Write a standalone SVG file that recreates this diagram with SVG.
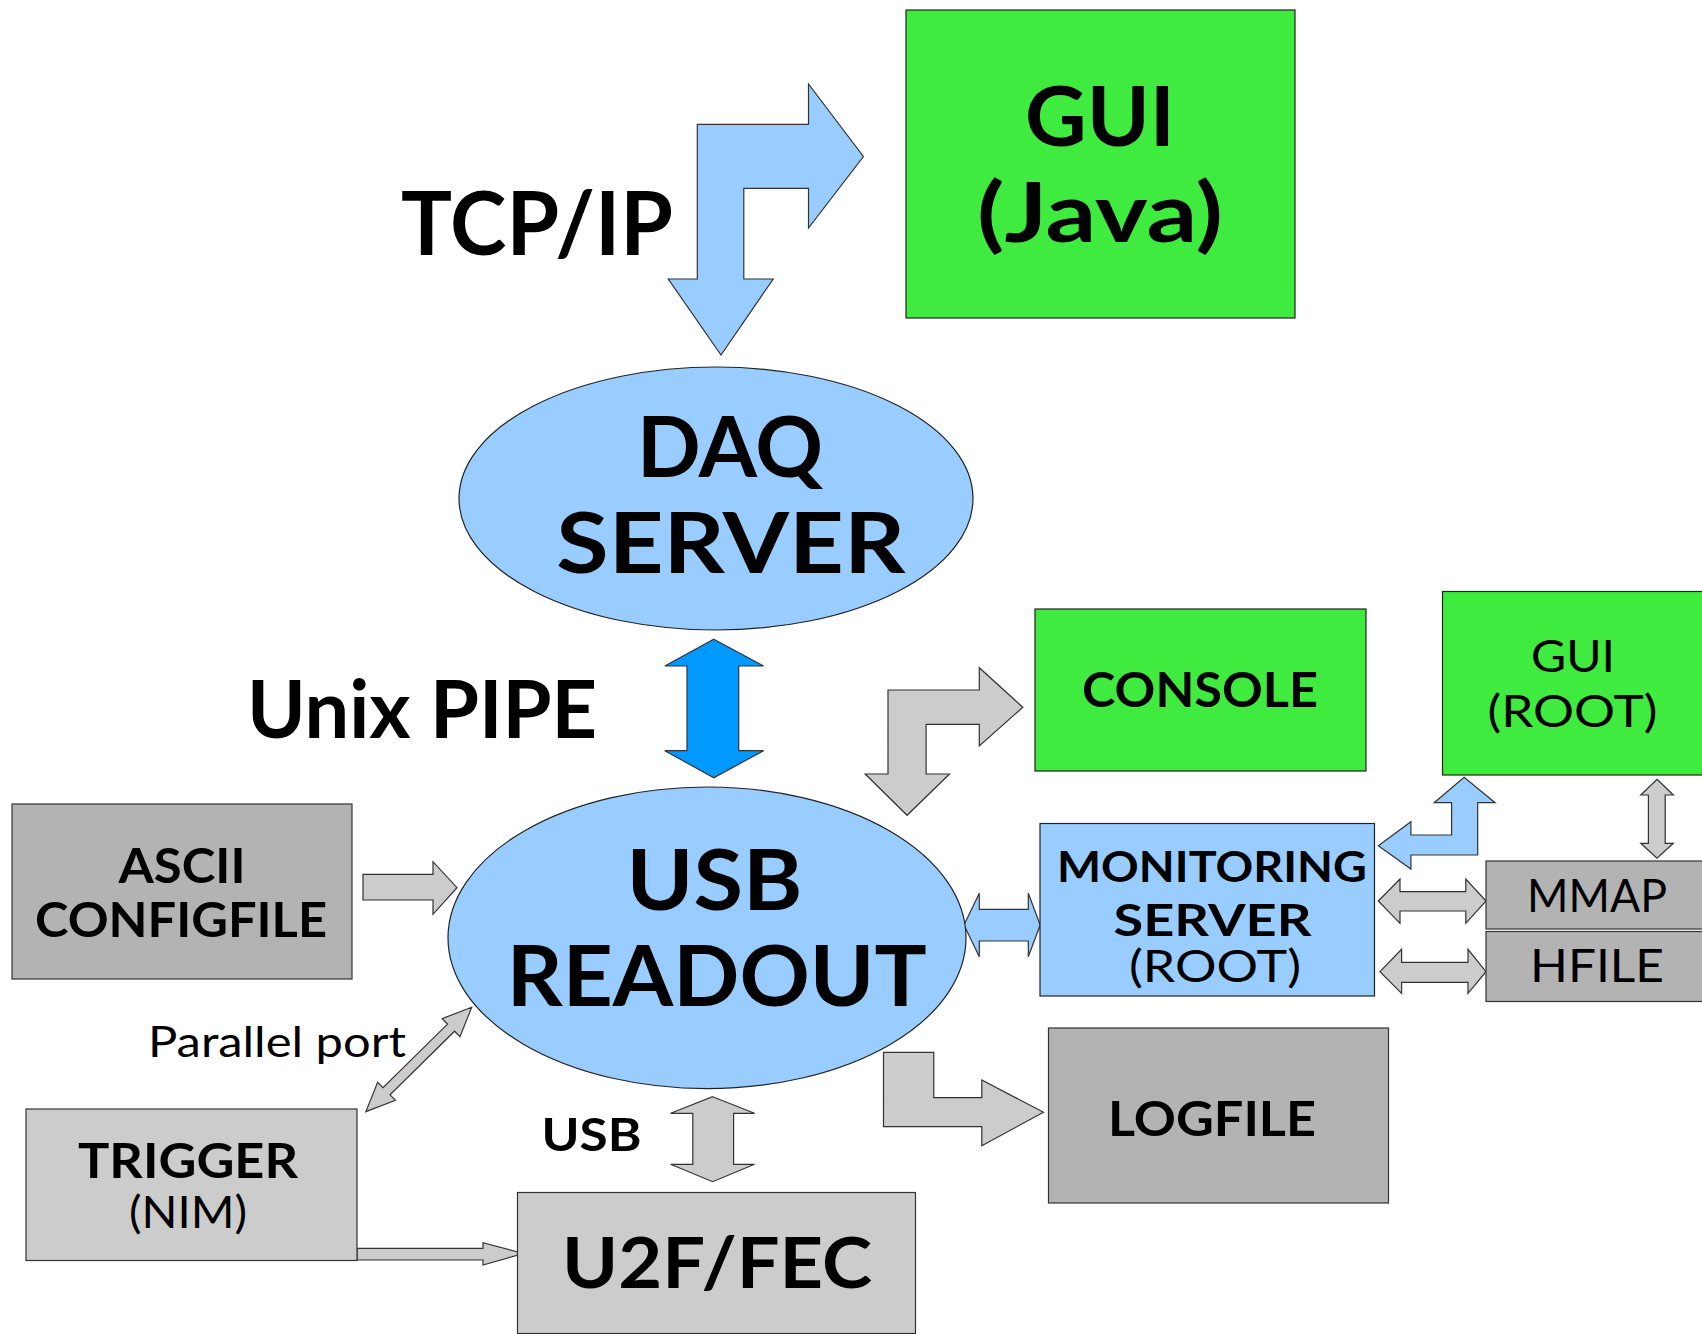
<svg xmlns="http://www.w3.org/2000/svg" width="1702" height="1334" viewBox="0 0 1702 1334">
<style>
.green{fill:#3feb3f;stroke:#222;stroke-width:1.2}
.blue{fill:#99ccff;stroke:#222;stroke-width:1.2}
.g1{fill:#b3b3b3;stroke:#333;stroke-width:1.2}
.g2{fill:#cccccc;stroke:#333;stroke-width:1.2}
.arrg{fill:#cccccc;stroke:#333;stroke-width:1.2;stroke-linejoin:miter}
.arrb{fill:#99ccff;stroke:#333;stroke-width:1.2}
.arrp{fill:#0099ff;stroke:#333;stroke-width:1.2}
.b{font-family:Lato,"Open Sans","Liberation Sans",sans-serif;font-weight:bold;fill:#000;text-anchor:middle}
.r{font-family:Lato,"Open Sans","Liberation Sans",sans-serif;font-weight:normal;fill:#000;text-anchor:middle}
</style>
<rect width="1702" height="1334" fill="#fff"/>
<g id="connectors">
<polygon id="tcpip-arrow" class="arrb" points="697.3,124.3 808.5,124.3 808.5,84 863.4,156.5 808.5,228 808.5,188.3 743.8,188.3 743.8,279 773.2,279 721,355 668.3,279 697.3,279"/>
<polygon id="pipe-arrow" class="arrp" points="713.8,639.3 763.6,666 738.7,666 738.7,750.7 763.6,750.7 713.8,777.7 664.8,750.7 687,750.7 687,666 664.8,666"/>
<polygon id="console-arrow" class="arrg" points="888,690 979.3,690 979.3,667.7 1022.8,707.3 979.3,746 979.3,724.3 926.1,724.3 926.1,774 949.5,774 907.1,815.3 865.2,774 888,774"/>
<polygon id="mon-guiroot-arrow" class="arrb" points="1378.3,845.7 1410.9,821.7 1410.9,835 1451.6,835 1451.6,802.7 1434.2,802.7 1464.1,777.3 1495.1,802.7 1477.7,802.7 1477.7,855 1410.9,855 1410.9,869"/>
<polygon id="guiroot-mmap-arrow" class="arrg" points="1657,779.3 1673.4,795 1665.2,795 1665.2,843.3 1673.4,843.3 1657,858.3 1640.8,843.3 1648.4,843.3 1648.4,795 1640.8,795"/>
<polygon id="mon-mmap-arrow" class="arrg" points="1378.3,901 1400,879 1400,891.7 1465.8,891.7 1465.8,879 1486,901 1465.8,923.3 1465.8,911 1400,911 1400,923.3"/>
<polygon id="mon-hfile-arrow" class="arrg" points="1380,971.7 1401.6,949.3 1401.6,962.3 1468,962.3 1468,949.3 1486,971.7 1468,993.3 1468,982.3 1401.6,982.3 1401.6,993.3"/>
<polygon id="usb-mon-arrow" class="arrb" points="964,925 979.3,893.3 979.3,909.3 1028.3,909.3 1028.3,893.3 1040.2,925 1028.3,956.7 1028.3,941 979.3,941 979.3,956.7"/>
<polygon id="ascii-arrow" class="arrg" points="363,874.3 433,874.3 433,861.7 457,887.7 433,914.3 433,900 363,900"/>
<polygon id="parallel-arrow" class="arrg" transform="translate(471.7,1007.3) rotate(135.4)" points="0,0 29,-12.7 29,-5 119.6,-5 119.6,-12.7 148.6,0 119.6,12.7 119.6,5 29,5 29,12.7"/>
<polygon id="trigger-arrow" class="arrg" points="357,1248.3 483,1248.3 483,1242.7 523.2,1253.5 483,1265 483,1260 357,1260"/>
<polygon id="usb-arrow" class="arrg" points="712.6,1096.7 754.6,1113.3 733.6,1113.3 733.6,1164.3 754.6,1164.3 712.6,1181.7 670.6,1164.3 692.8,1164.3 692.8,1113.3 670.6,1113.3"/>
<polygon id="logfile-arrow" class="arrg" points="883.5,1052.3 933.8,1052.3 933.8,1097.7 981.8,1097.7 981.8,1080 1043.5,1112.3 981.8,1145.7 981.8,1126.7 883.5,1126.7"/>
</g>
<g id="labels">
<text class="b" x="537" y="255" font-size="88" textLength="272" lengthAdjust="spacingAndGlyphs">TCP/IP</text>
<text class="b" x="422" y="738" font-size="80" textLength="350" lengthAdjust="spacingAndGlyphs">Unix PIPE</text>
<text class="r" x="277" y="1057" font-size="42" textLength="258" lengthAdjust="spacingAndGlyphs">Parallel port</text>
<text class="b" x="591.5" y="1151" font-size="46" textLength="100" lengthAdjust="spacingAndGlyphs">USB</text>
</g>
<g id="gui-java">
<rect class="green" x="906" y="10" width="389" height="308"/>
<text class="b" x="1100" y="146" font-size="83" textLength="150" lengthAdjust="spacingAndGlyphs">GUI</text>
<text class="b" x="1100" y="241.7" font-size="83" textLength="246" lengthAdjust="spacingAndGlyphs">(Java)</text>
</g>
<g id="daq-server">
<ellipse class="blue" cx="716" cy="498.5" rx="257" ry="131.5"/>
<text class="b" x="730" y="477.3" font-size="84" textLength="186" lengthAdjust="spacingAndGlyphs">DAQ</text>
<text class="b" x="730.8" y="573.3" font-size="84" textLength="349" lengthAdjust="spacingAndGlyphs">SERVER</text>
</g>
<g id="console">
<rect class="green" x="1035" y="609" width="331" height="162"/>
<text class="b" x="1200" y="707" font-size="48" textLength="236" lengthAdjust="spacingAndGlyphs">CONSOLE</text>
</g>
<g id="gui-root">
<rect class="green" x="1442.5" y="591.5" width="270" height="183.5"/>
<text class="r" x="1573" y="672" font-size="44" textLength="84" lengthAdjust="spacingAndGlyphs">GUI</text>
<text class="r" x="1572.5" y="727" font-size="44" textLength="170" lengthAdjust="spacingAndGlyphs">(ROOT)</text>
</g>
<g id="usb-readout">
<ellipse class="blue" cx="707" cy="937.8" rx="259" ry="150.8"/>
<text class="b" x="714.5" y="910" font-size="84" textLength="176" lengthAdjust="spacingAndGlyphs">USB</text>
<text class="b" x="716.7" y="1005.7" font-size="84" textLength="420" lengthAdjust="spacingAndGlyphs">READOUT</text>
</g>
<g id="monitoring-server">
<rect class="blue" x="1040" y="823.5" width="334.5" height="172.5"/>
<text class="b" x="1212" y="882" font-size="42" textLength="310" lengthAdjust="spacingAndGlyphs">MONITORING</text>
<text class="b" x="1212.5" y="936" font-size="44" textLength="198" lengthAdjust="spacingAndGlyphs">SERVER</text>
<text class="r" x="1215" y="981.7" font-size="44" textLength="172" lengthAdjust="spacingAndGlyphs">(ROOT)</text>
</g>
<g id="mmap">
<rect class="g1" x="1486" y="861" width="230" height="68"/>
<text class="r" x="1597" y="911.7" font-size="46" textLength="140" lengthAdjust="spacingAndGlyphs">MMAP</text>
</g>
<g id="hfile">
<rect class="g1" x="1486" y="931.5" width="230" height="70"/>
<text class="r" x="1597" y="981.7" font-size="46" textLength="134" lengthAdjust="spacingAndGlyphs">HFILE</text>
</g>
<g id="ascii-configfile">
<rect class="g1" x="12" y="804" width="340" height="175"/>
<text class="b" x="182" y="883" font-size="47" textLength="127" lengthAdjust="spacingAndGlyphs">ASCII</text>
<text class="b" x="181" y="936.5" font-size="47" textLength="292" lengthAdjust="spacingAndGlyphs">CONFIGFILE</text>
</g>
<g id="trigger">
<rect class="g2" x="26" y="1109" width="331" height="151.5"/>
<text class="b" x="188" y="1177.5" font-size="47" textLength="220" lengthAdjust="spacingAndGlyphs">TRIGGER</text>
<text class="r" x="188" y="1228" font-size="44" textLength="118" lengthAdjust="spacingAndGlyphs">(NIM)</text>
</g>
<g id="u2f-fec">
<rect class="g2" x="517.5" y="1192.5" width="398" height="141"/>
<text class="b" x="717" y="1288" font-size="71" textLength="310" lengthAdjust="spacingAndGlyphs">U2F/FEC</text>
</g>
<g id="logfile">
<rect class="g1" x="1048.5" y="1028" width="340" height="175"/>
<text class="b" x="1212" y="1136" font-size="47" textLength="208" lengthAdjust="spacingAndGlyphs">LOGFILE</text>
</g>
</svg>
